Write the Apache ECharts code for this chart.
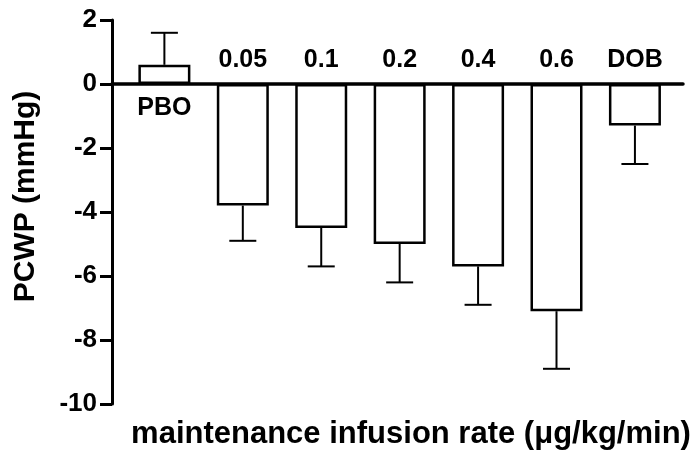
<!DOCTYPE html>
<html><head><meta charset="utf-8">
<script src="https://cdn.jsdelivr.net/npm/echarts@6/dist/echarts.min.js"></script>
<style>html,body{margin:0;padding:0;background:#fff}#c{width:697px;height:455px}</style>
</head><body><div id="c"></div>
<script>
// ---- data ----
const categories = ['PBO', '0.05', '0.1', '0.2', '0.4', '0.6', 'DOB'];
const means = [0.6, -3.8, -4.5, -5.0, -5.7, -7.1, -1.3];
const errors = [1.0, 1.1, 1.2, 1.2, 1.2, 1.8, 1.2];
const yTickLabels = [-10, -8, -6, -4, -2, 0, 2];
const yTitle = 'PCWP (mmHg)';
const xTitle = 'maintenance infusion rate (\u03bcg/kg/min)';

// ---- chart ----
const FONT = "Liberation Sans, Arial, Helvetica, sans-serif";
const chart = echarts.init(document.getElementById('c'), null, {renderer: 'canvas'});
const idx = categories.map((_, i) => i);

chart.setOption({
  animation: false,
  backgroundColor: '#fff',
  textStyle: {fontFamily: FONT, fontWeight: 'bold', color: '#000'},
  grid: {left: 112, right: 14, top: 20, bottom: 51, containLabel: false},
  xAxis: {
    type: 'value', min: -0.668, max: 6.613, z: 5,
    axisLine: {show: true, onZero: true, lineStyle: {color: '#000', width: 3.5}},
    axisTick: {show: false}, axisLabel: {show: false}, splitLine: {show: false}
  },
  yAxis: {
    type: 'value', min: yTickLabels[0], max: yTickLabels[yTickLabels.length - 1], interval: 2,
    axisLine: {show: true, onZero: false, lineStyle: {color: '#000', width: 3}},
    axisTick: {show: true, inside: false, length: 12, lineStyle: {color: '#000', width: 3}},
    axisLabel: {
      margin: 15, color: '#000', fontSize: 26, fontWeight: 900, fontFamily: 'Liberation Sans'
    },
    splitLine: {show: false}
  },
  graphic: [
    {type: 'text', x: 26, y: 196.5, rotation: Math.PI / 2,
     style: {text: yTitle, fill: '#000', fontSize: 30, fontWeight: 'bold', fontFamily: FONT,
             align: 'center', verticalAlign: 'middle'}},
    {type: 'text', x: 411, y: 434.5,
     style: {text: xTitle, fill: '#000', fontSize: 31, fontWeight: 'bold', fontFamily: FONT,
             align: 'center', verticalAlign: 'middle'}}
  ],
  series: [
    {
      type: 'bar', barWidth: 52, z: 2,
      data: idx.map(i => [i, means[i]]),
      itemStyle: {color: '#fff', borderColor: '#000', borderWidth: 2.5}
    },
    {
      type: 'custom', z: 3,
      data: idx.map(i => [i, means[i], errors[i]]),
      renderItem: function (params, api) {
        const x = api.value(0), v = api.value(1), e = api.value(2);
        const end = v >= 0 ? v + e : v - e;
        const p0 = api.coord([x, v]);
        const p1 = api.coord([x, end]);
        const hw = 13.5;
        const st = {stroke: '#000', lineWidth: 2, fill: null};
        return {type: 'group', children: [
          {type: 'line', shape: {x1: p0[0], y1: p0[1], x2: p1[0], y2: p1[1]}, style: st},
          {type: 'line', shape: {x1: p1[0] - hw, y1: p1[1], x2: p1[0] + hw, y2: p1[1]}, style: st}
        ]};
      }
    },
    {
      type: 'custom', z: 4,
      data: idx.map(i => [i, means[i]]),
      renderItem: function (params, api) {
        const x = api.value(0), v = api.value(1);
        const p = api.coord([x, 0]);
        return {type: 'text', x: p[0], y: p[1] + (v >= 0 ? 24 : -24),
          style: {text: categories[params.dataIndex], fill: '#000', fontSize: 25, fontWeight: 'bold',
                  fontFamily: FONT, align: 'center', verticalAlign: 'middle'}};
      }
    }
  ]
});
</script></body></html>
